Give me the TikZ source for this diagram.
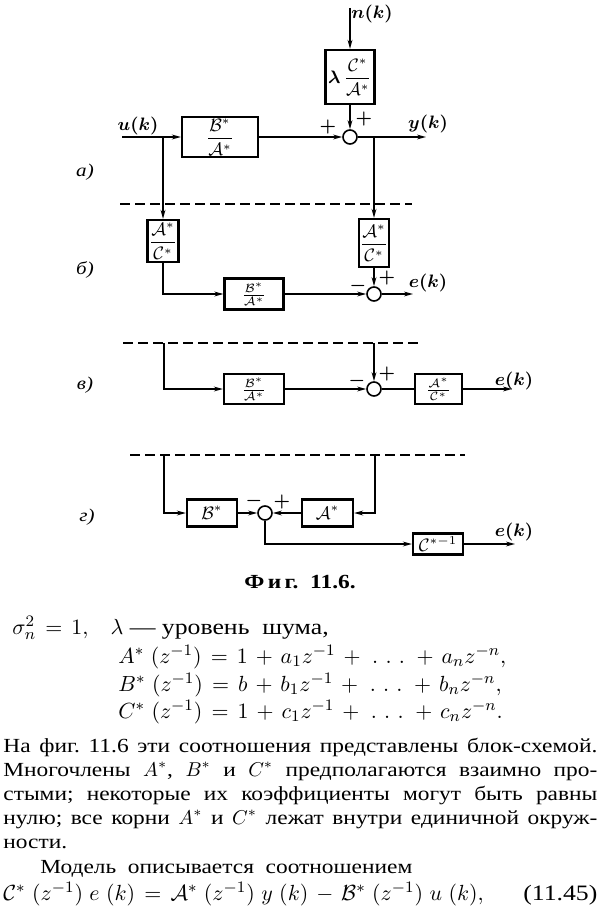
\documentclass[tikz,border=0pt]{standalone}
\usepackage{amsmath}
\usepackage{fontspec}
\setmainfont[FakeStretch=1.17]{Liberation Serif}
\usetikzlibrary{arrows.meta}
\newcommand\jline[1]{\makebox[297pt][s]{#1}}
\newcommand\widemath{\medmuskip=6.5mu\relax\thickmuskip=7.5mu\relax}
\frenchspacing
\tikzset{
  bx/.style={draw,line width=1.1pt,inner sep=0pt,fill=white},
  sum/.style={circle,draw,line width=0.8pt,minimum size=7pt,inner sep=0pt},
  con/.style={line width=0.75pt},
  arr/.style={con,-{Stealth[length=4.5pt,width=2.4pt]}},
  dsh/.style={line width=0.75pt,dash pattern=on 5pt off 2.5pt},
  lbl/.style={inner sep=0pt},
  sig/.style={inner sep=0pt,font=\fontsize{9.5}{11}\selectfont\boldmath},
  txt/.style={anchor=base west,inner sep=0pt,font=\fontsize{10}{12}\selectfont},
  eqt/.style={anchor=base west,inner sep=0pt,font=\fontsize{11}{13}\selectfont\widemath}
}
\begin{document}
\begin{tikzpicture}[x=0.5pt,y=-0.5pt,font=\fontsize{9}{11}\selectfont]
\useasboundingbox (0,0) rectangle (600,915);
% ---------- (a)
\coordinate (nin) at (350,8);
\node[bx,minimum width=24.5pt,minimum height=27pt] (lc) at (350,77) {$\boldsymbol{\lambda}\,\dfrac{\mathcal{C}^*}{\mathcal{A}^*}$};
\node[sum] (s1) at (350,137) {};
\coordinate (uin) at (122,137);
\node[bx,minimum width=38pt,minimum height=20pt] (ba1) at (220,137) {$\dfrac{\mathcal{B}^*}{\mathcal{A}^*}$};
\coordinate (yout) at (426,137);
\coordinate (bl) at (163,137);
\coordinate (br) at (374,137);
\draw[arr] (nin) -- (lc);
\draw[arr] (lc) -- (s1);
\draw[arr] (uin) -- (ba1);
\draw[arr] (ba1) -- (s1);
\draw[arr] (s1) -- (yout);
\node[sig] (ulab) at (138,126) {$u(k)$};
\node[sig] (ylab) at (428,124) {$y(k)$};
\node[sig] (nlab) at (372,14) {$n(k)$};
\node[sig] (p1) at (328,127) {$+$};
\node[sig] (p2) at (364,119) {$+$};
\node[lbl] (la) at (85,172) {\textit{а)}};
% dashed 1
\coordinate (d1a) at (120,204);
\coordinate (d1b) at (412,204);
\draw[dsh] (d1a) -- (d1b);
% ---------- (b)
\node[bx,minimum width=15.5pt,minimum height=21pt] (ac1) at (163,241) {$\dfrac{\mathcal{A}^*}{\mathcal{C}^*}$};
\node[bx,minimum width=15pt,minimum height=24pt] (ac2) at (374,243) {$\dfrac{\mathcal{A}^*}{\mathcal{C}^*}$};
\node[bx,minimum width=29.5pt,minimum height=15.5pt] (ba2) at (254,294) {$\frac{\mathcal{B}^*}{\mathcal{A}^*}$};
\node[sum] (s2) at (374,294) {};
\coordinate (e2) at (413,294);
\draw[arr] (bl) -- (ac1);
\draw[arr] (br) -- (ac2);
\draw[arr] (ac1.south) |- (ba2.west);
\draw[arr] (ba2) -- (s2);
\draw[arr] (ac2) -- (s2);
\draw[arr] (s2) -- (e2);
\node[sig] (m2) at (358,286) {$-$};
\node[sig] (q2) at (387,278) {$+$};
\node[sig] (el2) at (428,283) {$e(k)$};
\node[lbl] (lb) at (85,270) {\textit{б)}};
% dashed 2
\coordinate (d2a) at (123,343);
\coordinate (d2b) at (418,343);
\draw[dsh] (d2a) -- (d2b);
% ---------- (v)
\coordinate (v1) at (164,343);
\coordinate (v2) at (374,343);
\node[bx,minimum width=30pt,minimum height=15pt] (ba3) at (254,389) {$\frac{\mathcal{B}^*}{\mathcal{A}^*}$};
\node[sum] (s3) at (374,389) {};
\node[bx,minimum width=23.5pt,minimum height=15pt] (ac3) at (438.5,389) {$\frac{\mathcal{A}^*}{\mathcal{C}^*}$};
\coordinate (e3) at (512,389);
\draw[arr] (v1) |- (ba3);
\draw[arr] (ba3) -- (s3);
\draw[arr] (v2) -- (s3);
\draw[con] (s3) -- (ac3);
\draw[arr] (ac3) -- (e3);
\node[sig] (m3) at (357,381) {$-$};
\node[sig] (q3) at (387,374) {$+$};
\node[sig] (el3) at (514,381) {$e(k)$};
\node[lbl] (lv) at (85,385) {\textit{в)}};
% dashed 3
\coordinate (d3a) at (130,455);
\coordinate (d3b) at (465,455);
\draw[dsh] (d3a) -- (d3b);
% ---------- (g)
\coordinate (g1) at (164,455);
\coordinate (g2) at (375,455);
\node[bx,minimum width=25pt,minimum height=13.5pt] (b4) at (212,513) {$\mathcal{B}^*$};
\node[sum] (s4) at (265,513) {};
\node[bx,minimum width=25.5pt,minimum height=13.5pt] (a4) at (327.5,513) {$\mathcal{A}^*$};
\node[bx,minimum width=25pt,minimum height=10.5pt] (c4) at (438,544) {$\mathcal{C}^{*-1}$};
\coordinate (e4) at (515,544);
\draw[arr] (g1) |- (b4);
\draw[arr] (b4) -- (s4);
\draw[arr] (g2) |- (a4);
\draw[arr] (a4) -- (s4);
\draw[arr] (s4) |- (c4);
\draw[arr] (c4) -- (e4);
\node[sig] (m4) at (254,501) {$-$};
\node[sig] (q4) at (282,502) {$+$};
\node[sig] (el4) at (514,532) {$e(k)$};
\node[lbl] (lg) at (87,517) {\textit{г)}};
% ---------- caption and text
\node[lbl,font=\fontsize{10}{12}\selectfont\bfseries] (cap) at (300,582) {Ф\,и\,г.\ \ 11.6.};
\node[eqt] (t0) at (12,634) {$\sigma_n^2 = 1,$\quad $\lambda$ — уровень\ \ шума,};
\node[eqt] (t1) at (118,663) {$A^*\ (z^{-1}) = 1 + a_1z^{-1} + \,.\,\,.\,\,.\, + a_nz^{-n},$};
\node[eqt] (t2) at (118,691) {$B^*\ (z^{-1}) = b + b_1z^{-1} + \,.\,\,.\,\,.\, + b_nz^{-n},$};
\node[eqt] (t3) at (118,718) {$C^*\ (z^{-1}) = 1 + c_1z^{-1} + \,.\,\,.\,\,.\, + c_nz^{-n}.$};
\node[txt] (t4) at (3,752) {\jline{На фиг. 11.6 эти соотношения представлены блок-схемой.}};
\node[txt] (t5) at (3,776) {\jline{Многочлены $A^*$, $B^*$ и $C^*$ предполагаются взаимно про-}};
\node[txt] (t6) at (3,800) {\jline{стыми; некоторые их коэффициенты могут быть равны}};
\node[txt] (t7) at (3,824) {\jline{нулю; все корни $A^*$ и $C^*$ лежат внутри единичной окруж-}};
\node[txt] (t8) at (3,848) {ности.};
\node[txt] (t9) at (40,873) {Модель\ \ описывается\ \ соотношением};
\node[eqt] (t10) at (3,900) {\makebox[297pt][s]{$\mathcal{C}^*\ (z^{-1})\ e\ (k) = \mathcal{A}^*\ (z^{-1})\ y\ (k) - \mathcal{B}^*\ (z^{-1})\ u\ (k),$\hfill(11.45)}};
\end{tikzpicture}
\end{document}
